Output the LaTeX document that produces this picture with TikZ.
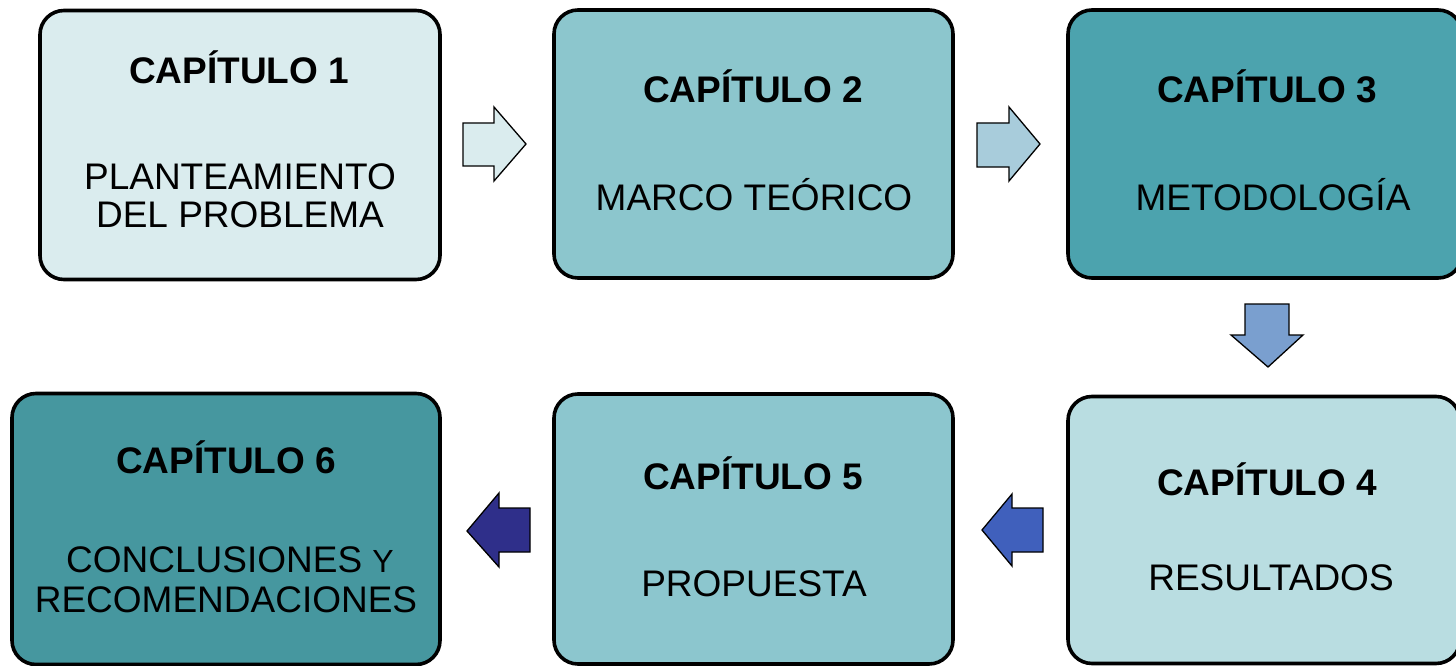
\documentclass[tikz,border=0pt]{standalone}
\usepackage{fontspec}
\setmainfont{Liberation Sans}
\definecolor{cA}{HTML}{DAECEE}
\definecolor{cB}{HTML}{8CC6CD}
\definecolor{cC}{HTML}{4CA3AE}
\definecolor{cD}{HTML}{B9DDE1}
\definecolor{cE}{HTML}{8CC6CE}
\definecolor{cF}{HTML}{46979F}
\definecolor{aA}{HTML}{DAECEE}
\definecolor{aB}{HTML}{A8CCDB}
\definecolor{aC}{HTML}{7A9FCF}
\definecolor{aD}{HTML}{4060BC}
\definecolor{aE}{HTML}{2F2F8A}
\tikzset{
  chapbox/.style={draw=black, line width=3.6pt, rounded corners=24pt, minimum width=#1, inner sep=0pt},
  titletxt/.style={font=\fontsize{37}{37}\selectfont\bfseries, anchor=base, inner sep=0pt},
  bodytxt/.style={font=\fontsize{37}{37}\selectfont, anchor=base, inner sep=0pt},
  blockarrow/.style={draw=black, line width=1.3pt, line join=miter}
}
\begin{document}
\begin{tikzpicture}[x=1pt,y=-1pt]
\useasboundingbox (0,0) rectangle (1456,666);
\clip (0,0) rectangle (1456,666);
% boxes
\node[chapbox=400pt, minimum height=269pt, fill=cA] (b1) at (240,145) {};
\node[chapbox=399pt, minimum height=268pt, fill=cB] (b2) at (753.5,144) {};
\node[chapbox=394pt, minimum height=268pt, fill=cC] (b3) at (1265,144) {};
\node[chapbox=392pt, minimum height=267pt, fill=cD] (b4) at (1264,530) {};
\node[chapbox=399pt, minimum height=270pt, fill=cE] (b5) at (753.5,529) {};
\node[chapbox=428pt, minimum height=271pt, fill=cF] (b6) at (226,529) {};
% texts
\node[titletxt] (t1) at (239,84) {CAPÍTULO 1};
\node[bodytxt] (s1a) at (240,189) {PLANTEAMIENTO};
\node[bodytxt] (s1b) at (240,227) {DEL PROBLEMA};
\node[titletxt] (t2) at (753,103) {CAPÍTULO 2};
\node[bodytxt] (s2) at (754,210) {MARCO TEÓRICO};
\node[titletxt] (t3) at (1267,103) {CAPÍTULO 3};
\node[bodytxt] (s3) at (1273,210) {METODOLOGÍA};
\node[titletxt] (t4) at (1267,495) {CAPÍTULO 4};
\node[bodytxt] (s4) at (1271,590) {RESULTADOS};
\node[titletxt] (t5) at (753,489) {CAPÍTULO 5};
\node[bodytxt] (s5) at (754,596) {PROPUESTA};
\node[titletxt] (t6) at (226,473) {CAPÍTULO 6};
\node[bodytxt] (s6a) at (230,572) {CONCLUSIONES {\fontsize{32}{32}\selectfont Y}};
\node[bodytxt] (s6b) at (226,612) {RECOMENDACIONES};
% block arrows
\draw[blockarrow, fill=aA] (463,123) -- (494,123) -- (494,107) -- (526,144) -- (494,181) -- (494,166) -- (463,166) -- cycle;
\draw[blockarrow, fill=aB] (977,123) -- (1009,123) -- (1009,107) -- (1040,144) -- (1009,181) -- (1009,167) -- (977,167) -- cycle;
\draw[blockarrow, fill=aC] (1245,304) -- (1289,304) -- (1289,335) -- (1303,335) -- (1268,367) -- (1231,335) -- (1245,335) -- cycle;
\draw[blockarrow, fill=aD] (1043,508) -- (1012,508) -- (1012,494) -- (982,530) -- (1012,566) -- (1012,552) -- (1043,552) -- cycle;
\draw[blockarrow, fill=aE] (530,508) -- (499,508) -- (499,493) -- (467,531) -- (499,567) -- (499,552) -- (530,552) -- cycle;
\end{tikzpicture}
\end{document}
